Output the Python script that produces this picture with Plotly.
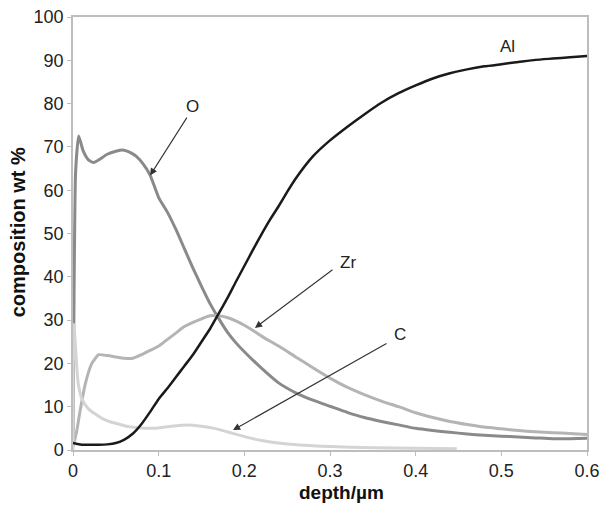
import plotly.graph_objects as go

# ---- data ----
al_x = [0, 0.01, 0.02, 0.03, 0.04, 0.05, 0.06, 0.07, 0.08, 0.09, 0.10, 0.11, 0.12, 0.13,
        0.14, 0.15, 0.16, 0.17, 0.18, 0.19, 0.20, 0.21, 0.22, 0.23, 0.24, 0.25, 0.26, 0.28,
        0.30, 0.32, 0.34, 0.36, 0.38, 0.40, 0.42, 0.44, 0.46, 0.48, 0.50, 0.52, 0.54, 0.56,
        0.58, 0.60]
al_y = [1.6, 1.2, 1.2, 1.2, 1.3, 1.6, 2.4, 3.8, 6.0, 8.8, 11.8, 14.2, 16.8, 19.4,
        22.0, 25.0, 28.0, 31.5, 35.0, 38.8, 42.5, 46.2, 49.8, 53.2, 56.3, 59.6, 62.7, 67.8,
        71.5, 74.6, 77.5, 80.2, 82.4, 84.2, 85.8, 87.0, 87.9, 88.6, 89.1, 89.6, 90.1, 90.4,
        90.7, 91.0]

o_x = [0, 0.001, 0.003, 0.0066, 0.012, 0.018, 0.024, 0.03, 0.04, 0.05, 0.058, 0.066,
       0.074, 0.082, 0.09, 0.10, 0.11, 0.12, 0.13, 0.14, 0.15, 0.16, 0.17, 0.18, 0.19,
       0.20, 0.22, 0.24, 0.26, 0.28, 0.30, 0.32, 0.34, 0.36, 0.38, 0.40, 0.42, 0.44, 0.46,
       0.48, 0.50, 0.52, 0.54, 0.56, 0.58, 0.60]
o_y = [1.0, 30.0, 64.0, 72.5, 69.0, 67.0, 66.4, 67.0, 68.3, 69.0, 69.3, 68.8,
       67.8, 66.0, 63.5, 58.3, 55.0, 51.0, 46.5, 42.0, 37.8, 33.8, 30.4, 27.3, 24.8,
       22.7, 18.9, 15.5, 13.2, 11.5, 10.1, 8.7, 7.5, 6.6, 5.8, 5.0, 4.5, 4.1, 3.7,
       3.4, 3.2, 3.0, 2.8, 2.6, 2.6, 2.7]

zr_x = [0, 0.004, 0.0085, 0.0145, 0.022, 0.03, 0.04, 0.05, 0.06, 0.07, 0.08, 0.09, 0.10,
        0.11, 0.12, 0.13, 0.14, 0.15, 0.16, 0.17, 0.18, 0.19, 0.20, 0.21, 0.22, 0.24, 0.26,
        0.28, 0.30, 0.32, 0.34, 0.36, 0.38, 0.40, 0.42, 0.44, 0.46, 0.48, 0.50, 0.52, 0.54,
        0.56, 0.58, 0.60]
zr_y = [0.8, 4.0, 9.3, 15.4, 20.0, 22.0, 21.8, 21.5, 21.2, 21.2, 22.0, 23.0, 24.0,
        25.5, 27.0, 28.5, 29.5, 30.3, 31.0, 31.0, 30.6, 29.8, 28.8, 27.6, 26.3, 24.0, 21.5,
        19.0, 16.6, 14.5, 12.8, 11.3, 10.0, 8.6, 7.5, 6.6, 5.9, 5.3, 4.9, 4.5, 4.2,
        4.0, 3.8, 3.6]

c_x = [0, 0.001, 0.006, 0.011, 0.018, 0.026, 0.035, 0.045, 0.055, 0.065, 0.08, 0.10,
       0.115, 0.133, 0.15, 0.165, 0.18, 0.20, 0.22, 0.25, 0.30, 0.35, 0.40, 0.448]
c_y = [0.0, 29.0, 15.5, 11.5, 9.5, 8.3, 7.2, 6.4, 5.9, 5.4, 5.1, 5.1,
       5.5, 5.8, 5.5, 5.0, 4.2, 3.1, 2.2, 1.4, 0.8, 0.5, 0.4, 0.3]

x_ticks = [0, 0.1, 0.2, 0.3, 0.4, 0.5, 0.6]
x_tick_text = ["0", "0.1", "0.2", "0.3", "0.4", "0.5", "0.6"]
y_ticks = [0, 10, 20, 30, 40, 50, 60, 70, 80, 90, 100]

# labels: (text, x, y)
labels = [("O", 0.140, 79.4), ("Al", 0.507, 93.3), ("Zr", 0.321, 43.3), ("C", 0.382, 26.6)]
# arrows: (head_x, head_y, tail_x, tail_y)
arrows = [(0.090, 63.4, 0.134, 77.1), (0.2124, 28.2, 0.3047, 41.9), (0.1868, 4.6, 0.3677, 24.8)]

fig = go.Figure()
series = [
    ("O", o_x, o_y, "#8a8a8a", 3),
    ("Zr", zr_x, zr_y, "#b4b4b4", 3),
    ("C", c_x, c_y, "#d4d4d4", 3),
    ("Al", al_x, al_y, "#1a1a1a", 2.5),
]
for name, xs, ys, col, w in series:
    fig.add_trace(go.Scatter(x=xs, y=ys, mode="lines", name=name,
                             line=dict(color=col, width=w, shape="spline", smoothing=0.5),
                             showlegend=False))

font_family = "Liberation Sans, Arial, sans-serif"
anns = []
for t, x, y in labels:
    anns.append(dict(x=x, y=y, xref="x", yref="y", text=t, showarrow=False,
                     font=dict(family=font_family, size=17, color="#222")))
for hx, hy, tx, ty in arrows:
    anns.append(dict(x=hx, y=hy, ax=tx, ay=ty, xref="x", yref="y", axref="x", ayref="y",
                     text="", showarrow=True, arrowhead=2, arrowsize=1.3,
                     arrowwidth=1.1, arrowcolor="#333"))
anns.append(dict(x=0.523, y=-0.099, xref="paper", yref="paper", text="<b>depth/µm</b>",
                 showarrow=False, xanchor="center", yanchor="middle",
                 font=dict(family=font_family, size=19, color="#111")))
anns.append(dict(x=-0.108, y=0.504, xref="paper", yref="paper",
                 text="<b>composition wt %</b>", textangle=-90, showarrow=False,
                 xanchor="center", yanchor="middle",
                 font=dict(family=font_family, size=20, color="#111")))

fig.update_layout(
    width=602, height=512,
    margin=dict(l=73, r=15, t=17, b=62, autoexpand=False),
    paper_bgcolor="white", plot_bgcolor="white",
    annotations=anns,
    font=dict(family=font_family, size=18, color="#222"),
)
fig.update_xaxes(range=[0, 0.6], tickvals=x_ticks, ticktext=x_tick_text, automargin=False,
                 showgrid=False, zeroline=False, showline=True, linecolor="#bdbdbd",
                 linewidth=1.5, mirror=True, ticks="outside", ticklen=4, tickcolor="#bdbdbd",
                 tickfont=dict(size=18, color="#222"))
fig.update_yaxes(range=[0, 100], tickvals=y_ticks, automargin=False,
                 showgrid=False, zeroline=False, showline=True, linecolor="#bdbdbd",
                 linewidth=1.5, mirror=True, ticks="outside", ticklen=4, tickcolor="#bdbdbd",
                 tickfont=dict(size=18, color="#222"))

fig.write_html("out.html")
